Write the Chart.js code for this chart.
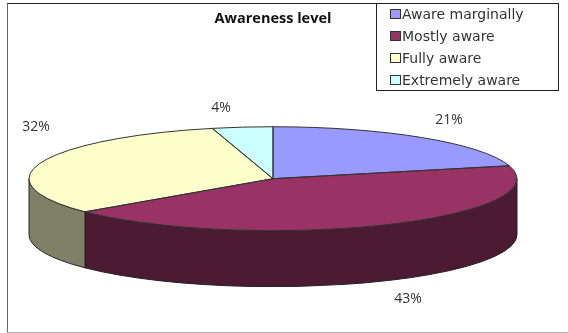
<!DOCTYPE html>
<html>
<head>
<meta charset="utf-8">
<script src="https://cdn.jsdelivr.net/npm/chart.js@4"></script>
<style>
  html, body { margin: 0; padding: 0; background: #fff; }
  #wrap { position: relative; width: 568px; height: 333px; overflow: hidden; }
  #frame { position: absolute; left: 7px; top: 3px; width: 552px; height: 330px; box-sizing: border-box;
           border-left: 1px solid #666; border-top: 1px solid #222; }
  #base { position: absolute; left: 7px; right: 0; top: 332px; height: 1px; background: #b4b4b4; }
  canvas { position: absolute; left: 0; top: 0; }
</style>
</head>
<body>
<div id="wrap">
  <div id="frame"></div>
  <div id="base"></div>
  <canvas id="pie" width="568" height="333"></canvas>
</div>
<script>
const categories = ['Aware marginally', 'Mostly aware', 'Fully aware', 'Extremely aware'];
const percents = [21, 43, 32, 4];

const topColors = ['#9999ff', '#993366', '#ffffcc', '#ccffff'];
const sideColors = ['#4d4d80', '#4d1a33', '#808066', '#668080'];

// how flat the pie looks and how thick it is
const radiusX = 244;
const squash = 0.213;
const depth = 56;

// where the percent labels sit
const labelSpots = [[449, 120], [408, 299], [36, 127], [221, 108]];

const pie3d = {
  id: 'pie3d',
  beforeDatasetsDraw(chart) {
    const ctx = chart.ctx;
    const arcs = chart.getDatasetMeta(0).data;
    // side walls first, only the front half of the rim is visible
    arcs.forEach((arc, i) => {
      const from = Math.max(arc.startAngle, 0);
      const to = Math.min(arc.endAngle, Math.PI);
      if (to <= from) return;
      const ry = arc.outerRadius * squash;
      ctx.save();
      ctx.beginPath();
      ctx.ellipse(arc.x, arc.y, arc.outerRadius, ry, 0, from, to);
      ctx.ellipse(arc.x, arc.y + depth, arc.outerRadius, ry, 0, to, from, true);
      ctx.closePath();
      ctx.fillStyle = sideColors[i];
      ctx.fill();
      ctx.lineWidth = 1;
      ctx.strokeStyle = '#222';
      ctx.stroke();
      ctx.restore();
    });
    // flatten the pie top around its own centre
    const cy = arcs[0].y;
    ctx.save();
    ctx.translate(0, cy);
    ctx.scale(1, squash);
    ctx.translate(0, -cy);
  },
  afterDatasetsDraw(chart) {
    const ctx = chart.ctx;
    ctx.restore();
    // outline drawn unscaled so the line stays 1px all the way round
    chart.getDatasetMeta(0).data.forEach(arc => {
      ctx.save();
      ctx.beginPath();
      ctx.moveTo(arc.x, arc.y);
      ctx.ellipse(arc.x, arc.y, arc.outerRadius, arc.outerRadius * squash, 0, arc.startAngle, arc.endAngle);
      ctx.closePath();
      ctx.lineWidth = 1;
      ctx.strokeStyle = '#333';
      ctx.stroke();
      ctx.restore();
    });
  },
  afterDraw(chart) {
    const ctx = chart.ctx;
    ctx.save();
    ctx.font = '14px "Open Sans"';
    ctx.fillStyle = '#333';
    ctx.textAlign = 'center';
    ctx.textBaseline = 'middle';
    percents.forEach((v, i) => {
      ctx.fillText(v + '%', labelSpots[i][0], labelSpots[i][1]);
    });

    // legend box in the top right corner
    const box = { x: 376, y: 3, w: 182, h: 87 };
    ctx.fillStyle = '#fff';
    ctx.fillRect(box.x, box.y, box.w, box.h);
    ctx.strokeStyle = '#222';
    ctx.lineWidth = 1;
    ctx.strokeRect(box.x + 0.5, box.y + 0.5, box.w, box.h);
    ctx.textAlign = 'left';
    ctx.font = '14px "DejaVu Sans"';
    categories.forEach((name, i) => {
      const y = 15 + i * 22;
      ctx.fillStyle = topColors[i];
      ctx.fillRect(391, y - 5, 9, 8);
      ctx.strokeStyle = '#333';
      ctx.strokeRect(390.5, y - 5.5, 10, 9);
      ctx.fillStyle = '#333';
      ctx.fillText(name, 402, y);
    });
    ctx.restore();
  }
};

new Chart(document.getElementById('pie'), {
  type: 'pie',
  data: {
    labels: categories,
    datasets: [{
      data: percents,
      backgroundColor: topColors,
      borderWidth: 0,
      radius: radiusX,
      clip: false
    }]
  },
  options: {
    responsive: false,
    animation: false,
    layout: { padding: { left: 0, right: 22, top: 10, bottom: 3 } },
    plugins: {
      legend: { display: false },
      tooltip: { enabled: false },
      title: {
        display: true,
        text: 'Awareness level',
        color: '#111',
        font: { family: '"Open Sans"', size: 14.5, weight: 'bold' },
        padding: { top: 0, bottom: 0 }
      }
    }
  },
  plugins: [pie3d]
});
</script>
</body>
</html>
